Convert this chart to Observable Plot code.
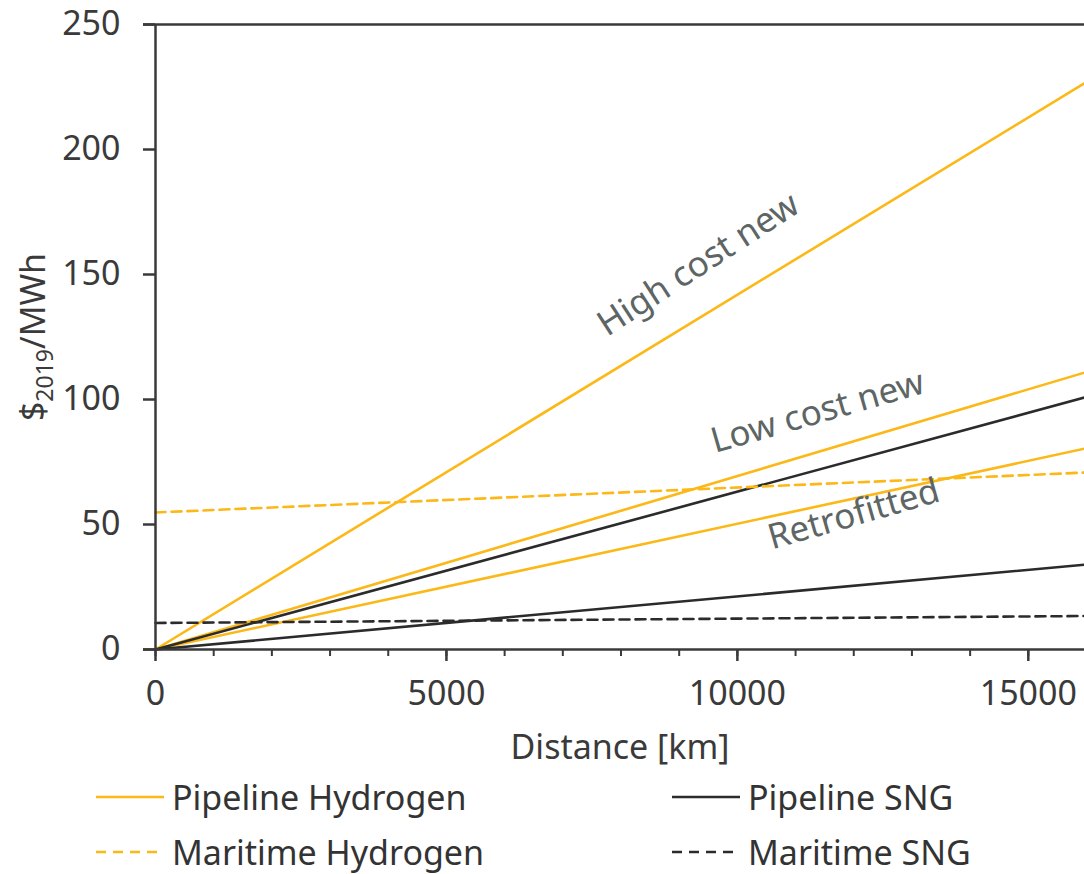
<!DOCTYPE html>
<html>
<head>
<meta charset="utf-8">
<script src="https://cdn.jsdelivr.net/npm/d3@7"></script>
<script src="https://cdn.jsdelivr.net/npm/@observablehq/plot@0.6"></script>
<style>
  body { margin: 0; background: #fff; font-family: "Noto Sans", sans-serif; }
  #wrap { position: relative; width: 1084px; height: 874px; overflow: hidden; }
  #chart { position: absolute; left: 0; top: 0; }
  .leg { position: absolute; display: flex; align-items: center; font-size: 34px; line-height: 1; color: #333; white-space: nowrap; transform: translateY(-50%); }
  .leg svg { display: block; margin-right: 8px; }
</style>
</head>
<body>
<div id="wrap">
  <div id="chart"></div>
  <div id="legend"></div>
</div>
<script>
// ---- data ----
const distance = [0, 16000];                 // km
const h2HighCostNew = [0, 227];              // $2019/MWh
const h2LowCostNew = [0, 111];
const h2Retrofitted = [0, 80.5];
const sngPipelineHigh = [0, 101];
const sngPipelineLow = [0, 34];
const h2Maritime = [54.8, 70.8];
const sngMaritime = [10.6, 13.4];

const yTicks = [0, 50, 100, 150, 200, 250];
const xTicksMajor = [0, 5000, 10000, 15000];
const xTicksMinor = d3.range(0, 16001, 1000);

const annotationText = ["High cost new", "Low cost new", "Retrofitted"];
const annotationX = [9330, 11380, 12000];
const annotationY = [154, 95, 54];
const annotationAngle = [-33, -16, -16];

const legendLabels = ["Pipeline Hydrogen", "Pipeline SNG", "Maritime Hydrogen", "Maritime SNG"];

// ---- styles ----
const ORANGE = "#fbb817";
const DARK = "#2b2b2b";
const AXIS = "#3a3a3a";

const seriesDefs = [
  {name: "High cost new", vals: h2HighCostNew, color: ORANGE, dash: null},
  {name: "Low cost new", vals: h2LowCostNew, color: ORANGE, dash: null},
  {name: "Retrofitted", vals: h2Retrofitted, color: ORANGE, dash: null},
  {name: "SNG high", vals: sngPipelineHigh, color: DARK, dash: null},
  {name: "SNG low", vals: sngPipelineLow, color: DARK, dash: null},
  {name: "Maritime H2", vals: h2Maritime, color: ORANGE, dash: "10,6"},
  {name: "Maritime SNG", vals: sngMaritime, color: DARK, dash: "10,6"}
];

const lineMarks = seriesDefs.map(s =>
  Plot.line(distance.map((d, i) => ({d, v: s.vals[i]})), {
    x: "d", y: "v", stroke: s.color, strokeWidth: 2.6,
    strokeDasharray: s.dash || undefined
  })
);

const annotations = annotationText.map((t, i) => ({t, x: annotationX[i], y: annotationY[i], r: annotationAngle[i]}));

const chart = Plot.plot({
  width: 1084,
  height: 770,
  marginLeft: 155,
  marginRight: 0,
  marginTop: 24,
  marginBottom: 121,
  x: {domain: [0, 16000], range: [155, 1086]},
  y: {domain: [0, 250], range: [649, 24]},
  style: {fontFamily: "Noto Sans", fontSize: "34px", color: AXIS, background: "white"},
  marks: [
    ...lineMarks,
    Plot.text(annotations, {
      x: "x", y: "y", text: "t", rotate: "r",
      fill: "#5d6565", fontSize: 35, textAnchor: "middle", lineAnchor: "middle"
    }),
    Plot.ruleX([0], {stroke: AXIS, strokeWidth: 2.5}),
    Plot.ruleY([0], {stroke: AXIS, strokeWidth: 2.5, insetLeft: -12}),
    Plot.ruleY([250], {stroke: AXIS, strokeWidth: 2.5, insetLeft: -12}),
    Plot.axisY({ticks: yTicks, tickSize: 12, tickPadding: 23, fontSize: 34, label: null,
      tickFormat: d3.format("d"), color: AXIS, strokeWidth: 2.5}),
    Plot.axisX({ticks: xTicksMinor, tickSize: 7, tickFormat: () => "", label: null,
      color: AXIS, strokeWidth: 2}),
    Plot.axisX({ticks: xTicksMajor, tickSize: 12, tickPadding: 19, fontSize: 34, label: null,
      tickFormat: d3.format("d"), color: AXIS, strokeWidth: 2.5}),
    Plot.text(["Distance [km]"], {frameAnchor: "bottom", dy: 99, text: d => d,
      fontSize: 34, fill: AXIS, textAnchor: "middle", lineAnchor: "middle"})
  ]
});

document.getElementById("chart").appendChild(chart);

// y-axis label with subscript
const svg = d3.select(chart);
const ylab = svg.append("text")
  .attr("transform", "translate(45,337) rotate(-90)")
  .attr("text-anchor", "middle")
  .attr("font-family", "Noto Sans")
  .attr("font-size", 34)
  .attr("fill", AXIS);
ylab.append("tspan").text("$");
ylab.append("tspan").attr("font-size", 23).attr("dy", 8).text("2019");
ylab.append("tspan").attr("dy", -8).text("/MWh");

// legend (below the plot)
const legend = document.getElementById("legend");
const legendItems = [
  {label: legendLabels[0], color: ORANGE, dash: null, left: 96, top: 797},
  {label: legendLabels[1], color: DARK, dash: null, left: 672, top: 797},
  {label: legendLabels[2], color: ORANGE, dash: "10,7", left: 96, top: 852},
  {label: legendLabels[3], color: DARK, dash: "10,7", left: 672, top: 852}
];
for (const it of legendItems) {
  const div = document.createElement("div");
  div.className = "leg";
  div.style.left = it.left + "px";
  div.style.top = it.top + "px";
  const s = d3.create("svg").attr("width", 68).attr("height", 10);
  s.append("line").attr("x1", 0).attr("x2", 68).attr("y1", 5).attr("y2", 5)
    .attr("stroke", it.color).attr("stroke-width", 2.5)
    .attr("stroke-dasharray", it.dash);
  div.appendChild(s.node());
  const span = document.createElement("span");
  span.textContent = it.label;
  div.appendChild(span);
  legend.appendChild(div);
}
</script>
</body>
</html>
